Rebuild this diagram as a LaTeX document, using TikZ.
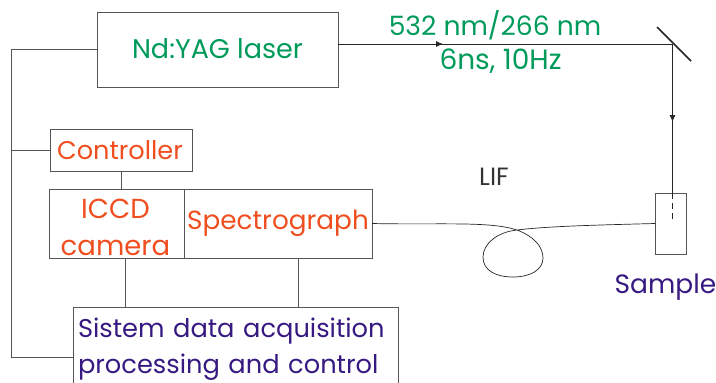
\documentclass[tikz,border=0pt]{standalone}
\usepackage{fontspec}
\setmainfont{Poppins}
\usetikzlibrary{arrows.meta, calc}
\definecolor{beamgreen}{RGB}{0,155,90}
\definecolor{unitorange}{RGB}{240,78,30}
\definecolor{dataviolet}{RGB}{55,25,130}
\definecolor{boxgray}{RGB}{85,85,85}

\begin{document}
\begin{tikzpicture}[x=1pt,y=-1pt,
  unitbox/.style={draw=boxgray,line width=1pt,inner sep=0pt,outer sep=0pt,anchor=north west},
  wire/.style={draw=boxgray,line width=1pt},
  ray/.style={draw=black!85,line width=0.8pt},
  midtip/.style={-{Latex[length=7pt,width=6pt]}}]
\useasboundingbox (0,0) rectangle (716,383);
\clip (0,0) rectangle (716,383);

\node[unitbox,minimum width=241pt,minimum height=75pt,text=beamgreen,font=\fontsize{27}{27}\selectfont] (laser) at (97,12) {\raisebox{2pt}{Nd:YAG laser}};
\node[unitbox,minimum width=142pt,minimum height=42pt,text=unitorange,font=\fontsize{25.6}{26}\selectfont] (ctrl) at (50,129) {\raisebox{-3pt}{\hspace{-2pt}Controller}};
\node[unitbox,minimum width=135pt,minimum height=69pt] (iccd) at (49,189) {};
\node[unitbox,minimum width=188pt,minimum height=69pt,text=unitorange,font=\fontsize{26.3}{26}\selectfont] (spec) at (184,189) {\raisebox{-1pt}{Spectrograph}};
\node[unitbox,minimum width=325pt,minimum height=84pt,text=dataviolet,font=\fontsize{25.7}{36}\selectfont,align=left,text width=315pt,inner xsep=5pt] (daq) at (73,307) {Sistem data acquisition\\processing and control};
\node[unitbox,minimum width=31pt,minimum height=61pt] (cell) at (655,193) {};

\node[text=unitorange,font=\fontsize{27.5}{37}\selectfont,align=center] (iccdtext) at (115.5,227) {ICCD\\camera};
\node[text=beamgreen,font=\fontsize{26.6}{27}\selectfont] (wave) at (495,25) {532 nm/266 nm};
\node[text=beamgreen,font=\fontsize{28}{28}\selectfont] (pulse) at (500.5,61) {6ns, 10Hz};
\node[text=black!80,font=\fontsize{25}{25}\selectfont] (lif) at (494,177) {LIF};
\node[text=dataviolet,font=\fontsize{26.5}{27}\selectfont] (sample) at (665.5,287) {Sample};

% mirror and beam
\coordinate (mirror) at (672.5,44);
\coordinate (focus) at (672.5,222);
\draw[line width=1.5pt,black!85] (657,27) -- (691,61);
\draw[ray] (laser.east |- mirror) -- (mirror);
\draw[ray,midtip] (laser.east |- mirror) -- (443,44);
\draw[ray] (mirror) -- (672.5,193);
\draw[ray,midtip] (mirror) -- (672.5,122);
\draw[ray,dash pattern=on 6pt off 4pt] (672.5,193) -- (focus);

% control bus
\coordinate (bustop) at (11,49.5);
\coordinate (busbot) at (11,357);
\draw[wire] (laser.west) -- (bustop) -- (busbot) -- (daq.west |- busbot);
\draw[wire] (ctrl.west) -- (bustop |- ctrl.west);
\draw[wire] (ctrl.south) -- (ctrl.south |- iccd.north);
\draw[wire] (iccd.south -| 125,0) -- (daq.north -| 125,0);
\draw[wire] (spec.south -| 298,0) -- (daq.north -| 298,0);

% fibre
\draw[ray,line width=0.7pt] (spec.east)
  .. controls (440,225) and (490,221) .. (517,230)
  .. controls (533,236) and (543,246) .. (543,258)
  .. controls (543,270) and (530,277) .. (513,277)
  .. controls (495,277) and (483,270) .. (483,257)
  .. controls (483,244) and (497,232) .. (517,230)
  .. controls (550,226) and (600,225) .. (cell.west);
\end{tikzpicture}
\end{document}
